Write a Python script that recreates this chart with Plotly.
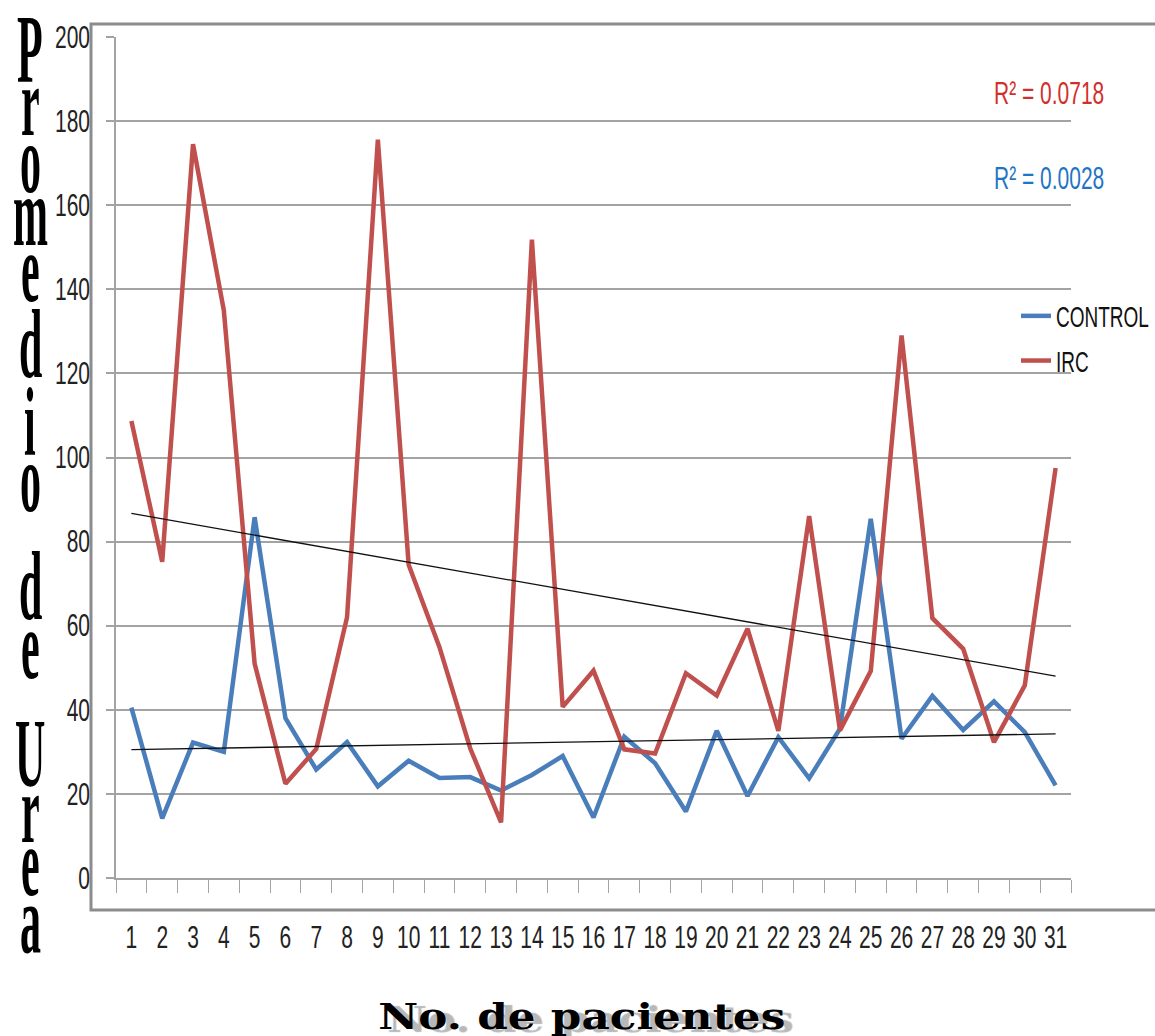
import numpy as np
import plotly.graph_objects as go

# --- data -------------------------------------------------------------
patients = [str(i) for i in range(1, 32)]
control = [40.5, 14.2, 32.2, 30.0, 85.8, 38.0, 25.8, 32.3, 21.8, 27.9,
           23.8, 24.0, 20.8, 24.5, 29.0, 14.4, 33.6, 27.3, 15.8, 35.0,
           19.5, 33.5, 23.7, 35.5, 85.4, 33.1, 43.3, 35.2, 42.0, 34.7,
           22.0]
irc = [108.7, 75.2, 174.5, 135.0, 51.0, 22.4, 30.7, 62.0, 175.6, 74.5,
       54.9, 30.8, 13.2, 151.8, 40.7, 49.3, 30.6, 29.6, 48.7, 43.4,
       59.3, 35.0, 86.1, 35.1, 49.2, 129.0, 61.8, 54.5, 32.3, 45.8,
       97.5]
r2_labels = ["R\u00b2 = 0.0718", "R\u00b2 = 0.0028"]
y_ticks = list(range(0, 201, 20))
title_letters = list("Promedio") + list("de") + list("Urea")

BLUE = "#4A7EBB"
RED = "#C0504D"
GRID = "#a3a3a3"
SANS = "Liberation Sans, Arial, sans-serif"

# plot-area geometry in page pixels
L, R, T, B = 116, 1071, 37, 878
W, H = 1155, 1036


def px(x):
    return (x - L) / (R - L)


def py(y):
    return (B - y) / (B - T)


xnum = np.arange(1, 32)


def trend(vals):
    k, c = np.polyfit(xnum, np.asarray(vals, float), 1)
    return [k * 1 + c, k * 31 + c]


fig = go.Figure()
fig.add_trace(go.Scatter(x=patients, y=control, mode="lines", name="CONTROL",
                         legendgroup="a", line=dict(color=BLUE, width=4.5)))
fig.add_trace(go.Scatter(x=patients, y=irc, mode="lines", name="IRC",
                         legendgroup="b", line=dict(color=RED, width=4.5)))
for vals in (irc, control):
    fig.add_trace(go.Scatter(x=[patients[0], patients[-1]], y=trend(vals),
                             mode="lines", showlegend=False, hoverinfo="skip",
                             line=dict(color="#111111", width=1.3)))

annotations = []
# stacked vertical axis title, one letter per annotation (indices 0-13)
letter_y = [49, 102, 159, 212, 268, 344, 422, 478, 586, 645, 753, 809, 862, 919]
for ch, yy in zip(title_letters, letter_y):
    annotations.append(dict(text="<b>%s</b>" % ch, x=px(30), y=py(yy), xref="paper",
                            yref="paper", xanchor="center", yanchor="middle",
                            showarrow=False,
                            font=dict(family="Liberation Serif, Times New Roman, serif",
                                      size=42, color="#000000")))

# x-axis title with its soft shadow (index 14)
annotations.append(dict(text="<b>No. de pacientes</b>", x=px(582), y=py(1016),
                        xref="paper", yref="paper", showarrow=False,
                        xanchor="center", yanchor="middle",
                        font=dict(family="DejaVu Serif, serif", size=35, color="#000000",
                                  shadow="8px 3px 1px #b8b8b8")))

# R² labels of the linear trends (indices 15-16)
for txt, yy, col in zip(r2_labels, [92, 178], ["#D0302B", "#1F74C4"]):
    annotations.append(dict(text=txt, x=px(1049), y=py(yy), xref="paper", yref="paper",
                            showarrow=False, xanchor="center", yanchor="middle",
                            font=dict(family=SANS, size=21, color=col)))

shapes = [dict(type="rect", xref="paper", yref="paper",
               x0=px(91), x1=px(1175), y0=py(910), y1=py(24),
               line=dict(color="#8c8c8c", width=3), layer="below")]

fig.update_layout(
    width=W, height=H,
    margin=dict(l=L, r=W - R, t=T, b=H - B, autoexpand=False),
    paper_bgcolor="white", plot_bgcolor="white",
    showlegend=True,
    legend=dict(x=px(1016), y=py(297), xanchor="left", yanchor="top",
                font=dict(family=SANS, size=19, color="#111111"),
                bgcolor="rgba(0,0,0,0)", traceorder="grouped", tracegroupgap=17,
                itemwidth=30),
    annotations=annotations,
    shapes=shapes,
)
fig.update_xaxes(type="category", range=[-0.5, 30.5], tickson="boundaries",
                 tickmode="linear", tick0=0, dtick=1, tickangle=0,
                 ticks="outside", ticklen=13, tickcolor=GRID, tickwidth=1.3,
                 showline=True, linecolor=GRID, linewidth=1.5, showgrid=False,
                 ticklabelstandoff=40,
                 tickfont=dict(family=SANS, size=21, color="#222222"))
fig.update_yaxes(range=[0, 200], tickvals=y_ticks, ticks="outside", ticklen=8,
                 tickcolor=GRID, tickwidth=1.5, showline=True, linecolor=GRID,
                 linewidth=1.5, showgrid=True, gridcolor=GRID, gridwidth=1.5,
                 zeroline=False, ticklabelstandoff=12,
                 tickfont=dict(family=SANS, size=21, color="#222222"))

# tall, condensed lettering: scale each text about its own centre
stretch_js = """
var gd = document.getElementById('{plot_id}');
function stretchEl(t, sx, sy) {
  if (!t) return;
  var cur = t.getAttribute('transform') || '';
  if (t.__stretched === cur) return;
  var bb = t.getBBox();
  var cx = bb.x + bb.width / 2, cy = bb.y + bb.height / 2;
  var nt = cur + ' translate(' + cx + ',' + cy + ') scale(' + sx + ',' + sy +
           ') translate(' + (-cx) + ',' + (-cy) + ')';
  t.setAttribute('transform', nt);
  t.__stretched = nt;
}
function stretchAll() {
  gd.querySelectorAll('g.annotation').forEach(function (g) {
    var i = +g.getAttribute('data-index');
    var t = g.querySelector('text.annotation-text');
    if (i < 14) stretchEl(t, 1, 2.34);
    else if (i === 14) stretchEl(t, 1.25, 1);
    else stretchEl(t, 1, 1.5);
  });
  gd.querySelectorAll('g.xtick text, g.ytick text').forEach(function (t) {
    stretchEl(t, 1, 1.45);
  });
  gd.querySelectorAll('g.legend text.legendtext').forEach(function (t) {
    stretchEl(t, 1, 1.6);
  });
}
stretchAll();
gd.on('plotly_afterplot', stretchAll);
"""

fig.write_html("out.html", post_script=stretch_js)
